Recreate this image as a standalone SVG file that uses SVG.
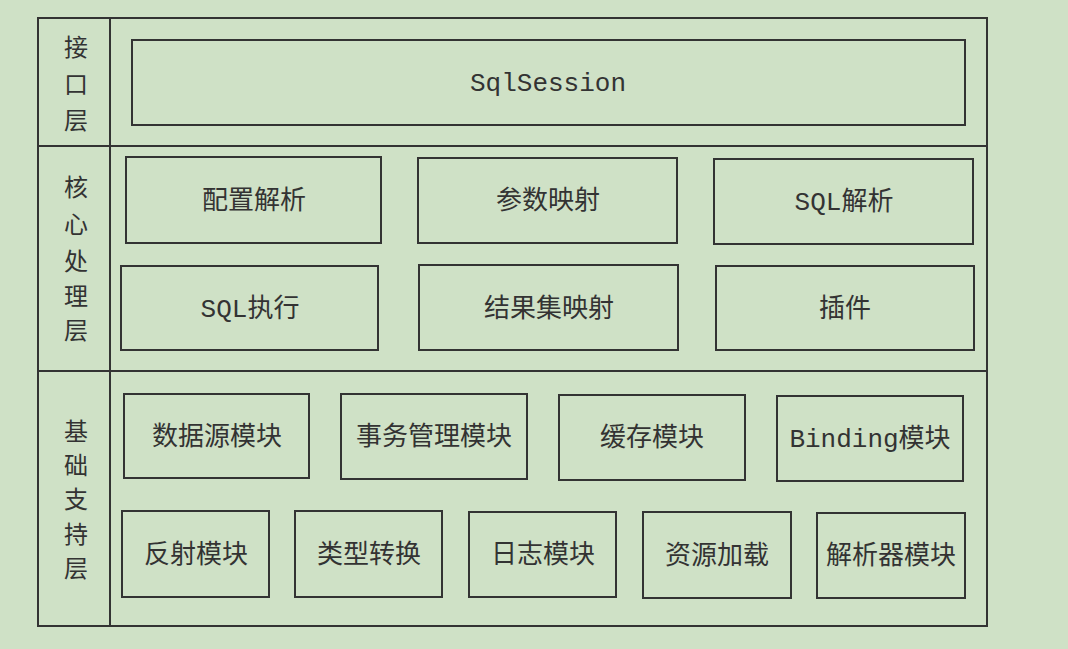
<svg xmlns="http://www.w3.org/2000/svg" width="1068" height="649" viewBox="0 0 1068 649">
<style>
.bg{fill:#cfe1c6}
.frame{fill:none;stroke:#333;stroke-width:2}
.box{fill:none;stroke:#333;stroke-width:2}
.t{font-family:"Liberation Mono","Noto Sans CJK SC",monospace;font-size:26px;fill:#333;text-anchor:middle}
.lab{font-family:"Noto Sans CJK SC",sans-serif;font-size:24px;fill:#333;text-anchor:middle}
</style>
<rect class="bg" x="0" y="0" width="1068" height="649"/>
<g id="frame">
<rect class="frame" x="38" y="18" width="949" height="608"/>
<line class="frame" x1="110" y1="18" x2="110" y2="626"/>
<line class="frame" x1="38" y1="146" x2="987" y2="146"/>
<line class="frame" x1="38" y1="371" x2="987" y2="371"/>
</g>
<g id="layer-interface">
<text class="lab" x="76" y="56">接</text>
<text class="lab" x="76" y="93">口</text>
<text class="lab" x="76" y="129">层</text>
</g>
<g id="layer-core">
<text class="lab" x="76" y="196">核</text>
<text class="lab" x="76" y="233">心</text>
<text class="lab" x="76" y="270">处</text>
<text class="lab" x="76" y="305">理</text>
<text class="lab" x="76" y="339">层</text>
</g>
<g id="layer-base">
<text class="lab" x="76" y="440">基</text>
<text class="lab" x="76" y="474">础</text>
<text class="lab" x="76" y="508">支</text>
<text class="lab" x="76" y="543">持</text>
<text class="lab" x="76" y="577">层</text>
</g>
<g id="sqlsession"><rect class="box" x="132" y="40" width="833" height="85"/><text class="t" x="548" y="91">SqlSession</text></g>
<g id="config"><rect class="box" x="126" y="157" width="255" height="86"/><text class="t" x="254" y="209">配置解析</text></g>
<g id="param"><rect class="box" x="418" y="158" width="259" height="85"/><text class="t" x="548" y="209">参数映射</text></g>
<g id="sqlparse"><rect class="box" x="714" y="159" width="259" height="85"/><text class="t" x="844" y="210">SQL解析</text></g>
<g id="sqlexec"><rect class="box" x="121" y="266" width="257" height="84"/><text class="t" x="250" y="317">SQL执行</text></g>
<g id="resultmap"><rect class="box" x="419" y="265" width="259" height="85"/><text class="t" x="549" y="317">结果集映射</text></g>
<g id="plugin"><rect class="box" x="716" y="266" width="258" height="84"/><text class="t" x="845" y="317">插件</text></g>
<g id="datasource"><rect class="box" x="124" y="394" width="185" height="84"/><text class="t" x="217" y="445">数据源模块</text></g>
<g id="transaction"><rect class="box" x="341" y="394" width="186" height="85"/><text class="t" x="434" y="445">事务管理模块</text></g>
<g id="cache"><rect class="box" x="559" y="395" width="186" height="85"/><text class="t" x="652" y="446">缓存模块</text></g>
<g id="binding"><rect class="box" x="777" y="396" width="186" height="85"/><text class="t" x="870" y="447">Binding模块</text></g>
<g id="reflect"><rect class="box" x="122" y="511" width="147" height="86"/><text class="t" x="196" y="563">反射模块</text></g>
<g id="typeconv"><rect class="box" x="295" y="511" width="147" height="86"/><text class="t" x="369" y="563">类型转换</text></g>
<g id="logging"><rect class="box" x="469" y="512" width="147" height="85"/><text class="t" x="543" y="563">日志模块</text></g>
<g id="resource"><rect class="box" x="643" y="512" width="148" height="86"/><text class="t" x="717" y="564">资源加载</text></g>
<g id="parser"><rect class="box" x="817" y="513" width="148" height="85"/><text class="t" x="891" y="564">解析器模块</text></g>
</svg>
